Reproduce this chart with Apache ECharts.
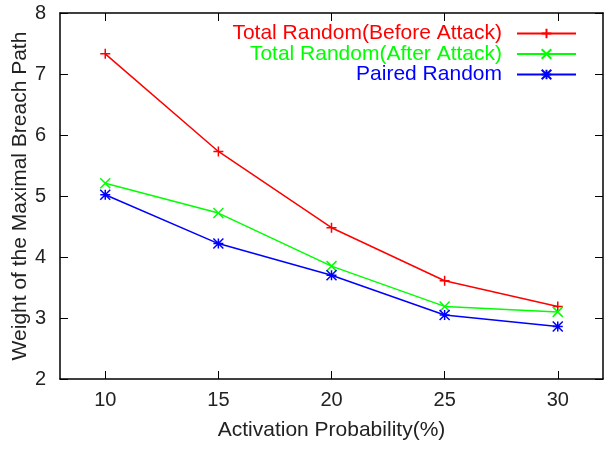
<!DOCTYPE html>
<html>
<head>
<meta charset="utf-8">
<script src="https://cdn.jsdelivr.net/npm/echarts@6/dist/echarts.min.js"></script>
<style>
  html, body { margin: 0; padding: 0; background: #fff; }
  #chart { width: 612px; height: 452px; }
</style>
</head>
<body>
<div id="chart"></div>
<script>
// data
const probs = [10, 15, 20, 25, 30];
const beforeAttack = [7.33, 5.73, 4.48, 3.61, 3.19];
const afterAttack = [5.21, 4.72, 3.85, 3.19, 3.10];
const pairedRandom = [5.02, 4.22, 3.70, 3.05, 2.86];
const xTicks = [10, 15, 20, 25, 30];
const yTicks = [2, 3, 4, 5, 6, 7, 8];

const seriesNames = ["Total Random(Before Attack)", "Total Random(After Attack)", "Paired Random"];
const colors = ["#ff0000", "#00ff00", "#0000ff"];
const symbols = [
  "path://M0,5L10,5M5,0L5,10",
  "path://M0,0L10,10M0,10L10,0",
  "path://M0,5L10,5M5,0L5,10M0,0L10,10M0,10L10,0"
];

const font = "'Liberation Sans', Arial, sans-serif";
const fs = 21;   // names + legend
const tfs = 20;  // tick labels

const pairs = (ys) => probs.map((x, i) => [x, ys[i]]);

const chart = echarts.init(document.getElementById("chart"), null, { renderer: "canvas" });

const axisLine = { show: true, lineStyle: { color: "#000", width: 1.5 } };
const tick = { show: true, inside: true, length: 8, lineStyle: { color: "#000", width: 1 } };

chart.setOption({
  animation: false,
  backgroundColor: "#fff",
  grid: { left: 60, right: 9, top: 13, bottom: 73, outerBoundsMode: "none", containLabel: false },
  xAxis: [
    {
      type: "value", min: 8, max: 32, position: "bottom",
      name: "Activation Probability(%)", nameLocation: "middle", nameGap: 41,
      nameMoveOverlap: false,
      nameTextStyle: { fontFamily: font, fontSize: fs, color: "#222" },
      axisLine, splitLine: { show: false },
      axisTick: Object.assign({ customValues: xTicks }, tick),
      axisLabel: { customValues: xTicks, margin: 11, fontFamily: font, fontSize: tfs, color: "#222" }
    },
    {
      type: "value", min: 8, max: 32, position: "top",
      axisLine, splitLine: { show: false },
      axisTick: Object.assign({ customValues: xTicks }, tick),
      axisLabel: { show: false }
    }
  ],
  yAxis: [
    {
      type: "value", min: 2, max: 8, interval: 1, position: "left",
      name: "Weight of the Maximal Breach Path", nameLocation: "middle", nameGap: 29,
      nameMoveOverlap: false,
      nameTextStyle: { fontFamily: font, fontSize: fs, color: "#222" },
      axisLine, splitLine: { show: false }, axisTick: tick,
      axisLabel: { margin: 14, fontFamily: font, fontSize: tfs, color: "#222",
        customValues: yTicks }
    },
    {
      type: "value", min: 2, max: 8, interval: 1, position: "right",
      axisLine, splitLine: { show: false }, axisTick: tick,
      axisLabel: { show: false }
    }
  ],
  legend: seriesNames.map((name, i) => ({
    data: [name],
    right: 35,
    top: 23 + i * 20.5,
    padding: 0,
    align: "right",
    itemWidth: 59,
    itemHeight: 12,
    selectedMode: false,
    textStyle: { fontFamily: font, fontSize: fs, lineHeight: 20, color: colors[i], padding: [0, 10, 0, 0] }
  })),
  series: [beforeAttack, afterAttack, pairedRandom].map((ys, i) => ({
    name: seriesNames[i],
    type: "line",
    data: pairs(ys),
    symbol: symbols[i],
    symbolSize: 10,
    lineStyle: { color: colors[i], width: 1.5 },
    itemStyle: { color: colors[i], borderColor: colors[i], borderWidth: 1.5 }
  }))
});
</script>
</body>
</html>
